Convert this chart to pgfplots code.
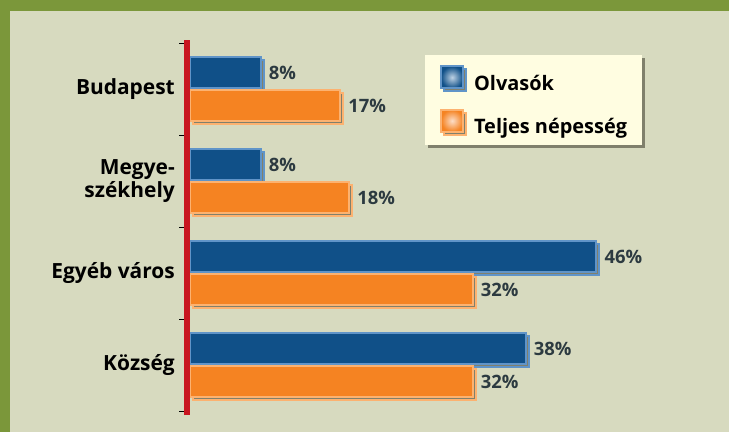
\documentclass[border=0pt]{standalone}
\usepackage{pgfplots}
\pgfplotsset{compat=1.18}
\usepackage{fontspec}
\setmainfont{Open Sans}
\usetikzlibrary{shadows}
\definecolor{olive}{RGB}{123,151,58}
\definecolor{bgcol}{RGB}{215,218,191}
\definecolor{axisred}{RGB}{200,22,32}
\definecolor{bluecore}{RGB}{16,80,136}
\definecolor{blueedge}{RGB}{96,148,200}
\definecolor{bluelight}{RGB}{190,210,228}
\definecolor{orangecore}{RGB}{245,131,34}
\definecolor{orangeedge}{RGB}{252,178,112}
\definecolor{orangelight}{RGB}{252,222,200}
\definecolor{shadowcol}{RGB}{128,128,108}
\definecolor{legfill}{RGB}{255,253,225}
\definecolor{labcol}{RGB}{44,58,64}

\pgfplotstableread{
y olv tel
3 8 17
2 8 18
1 46 32
0 38 32
}\data

\begin{document}
\begin{tikzpicture}
\useasboundingbox (0,0) rectangle (729bp,432bp);
\fill[olive] (0,0) rectangle (729bp,432bp);
\fill[bgcol] (10bp,0) rectangle (729bp,421bp);
\begin{axis}[
  at={(190bp,21bp)}, anchor=south west,
  scale only axis, width=441.5bp, height=368bp,
  xmin=0, xmax=50, ymin=-0.5, ymax=3.5,
  axis x line=none,
  axis y line*=left,
  y axis line style={draw=none},
  xtick=\empty,
  ytick={0,1,2,3},
  yticklabels={Község,Egyéb város,{Megye-\\székhely},Budapest},
  major tick length=0pt,
  minor ytick={-0.5,0.5,1.5,2.5,3.5},
  minor tick length=11bp,
  tick align=outside,
  minor tick style={black, line width=0.9bp},
  yticklabel style={font=\bfseries\fontsize{21}{23}\selectfont, align=right, anchor=east, inner xsep=0pt, xshift=-15bp},
  xbar, bar width=31bp,
  /pgf/number format/assume math mode=true,
  nodes near coords={\pgfmathprintnumber{\pgfplotspointmeta}\%},
  point meta=x,
  every node near coord/.append style={anchor=west, xshift=4bp, font=\bfseries\fontsize{18.5}{20}\selectfont, text=labcol},
  legend style={at={(0.532,0.967)}, anchor=north west, fill=legfill, draw=none,
    drop shadow={shadow xshift=3bp, shadow yshift=-3bp, fill=shadowcol, opacity=1},
    inner xsep=15bp, inner ysep=10bp, row sep=17bp,
    font=\bfseries\fontsize{20}{22}\selectfont,
    nodes={inner sep=0pt}, /tikz/column sep=10bp},
  legend cell align=left,
  clip=false,
]
\addplot[bar shift=16.5bp, fill=bluecore, draw=blueedge, line width=2bp,
  preaction={fill=shadowcol, transform canvas={xshift=3bp,yshift=-3bp}},
  legend image code/.code={\shade[inner color=bluelight, outer color=bluecore] (0bp,-5bp) rectangle (22bp,17bp);}]
  table[x=olv, y=y] {\data};
\addlegendentry{Olvasók}
\addplot[bar shift=-16.5bp, fill=orangecore, draw=orangeedge, line width=2bp,
  preaction={fill=shadowcol, transform canvas={xshift=3bp,yshift=-3bp}},
  legend image code/.code={\shade[inner color=orangelight, outer color=orangecore] (0bp,-5bp) rectangle (22bp,17bp);}]
  table[x=tel, y=y] {\data};
\addlegendentry{Teljes népesség}
\draw[axisred, line width=5.5bp, shorten <=-4bp, shorten >=-3bp]
  ([xshift=-3bp]axis cs:0,-0.5) -- ([xshift=-3bp]axis cs:0,3.5);
\end{axis}
\end{tikzpicture}
\end{document}
